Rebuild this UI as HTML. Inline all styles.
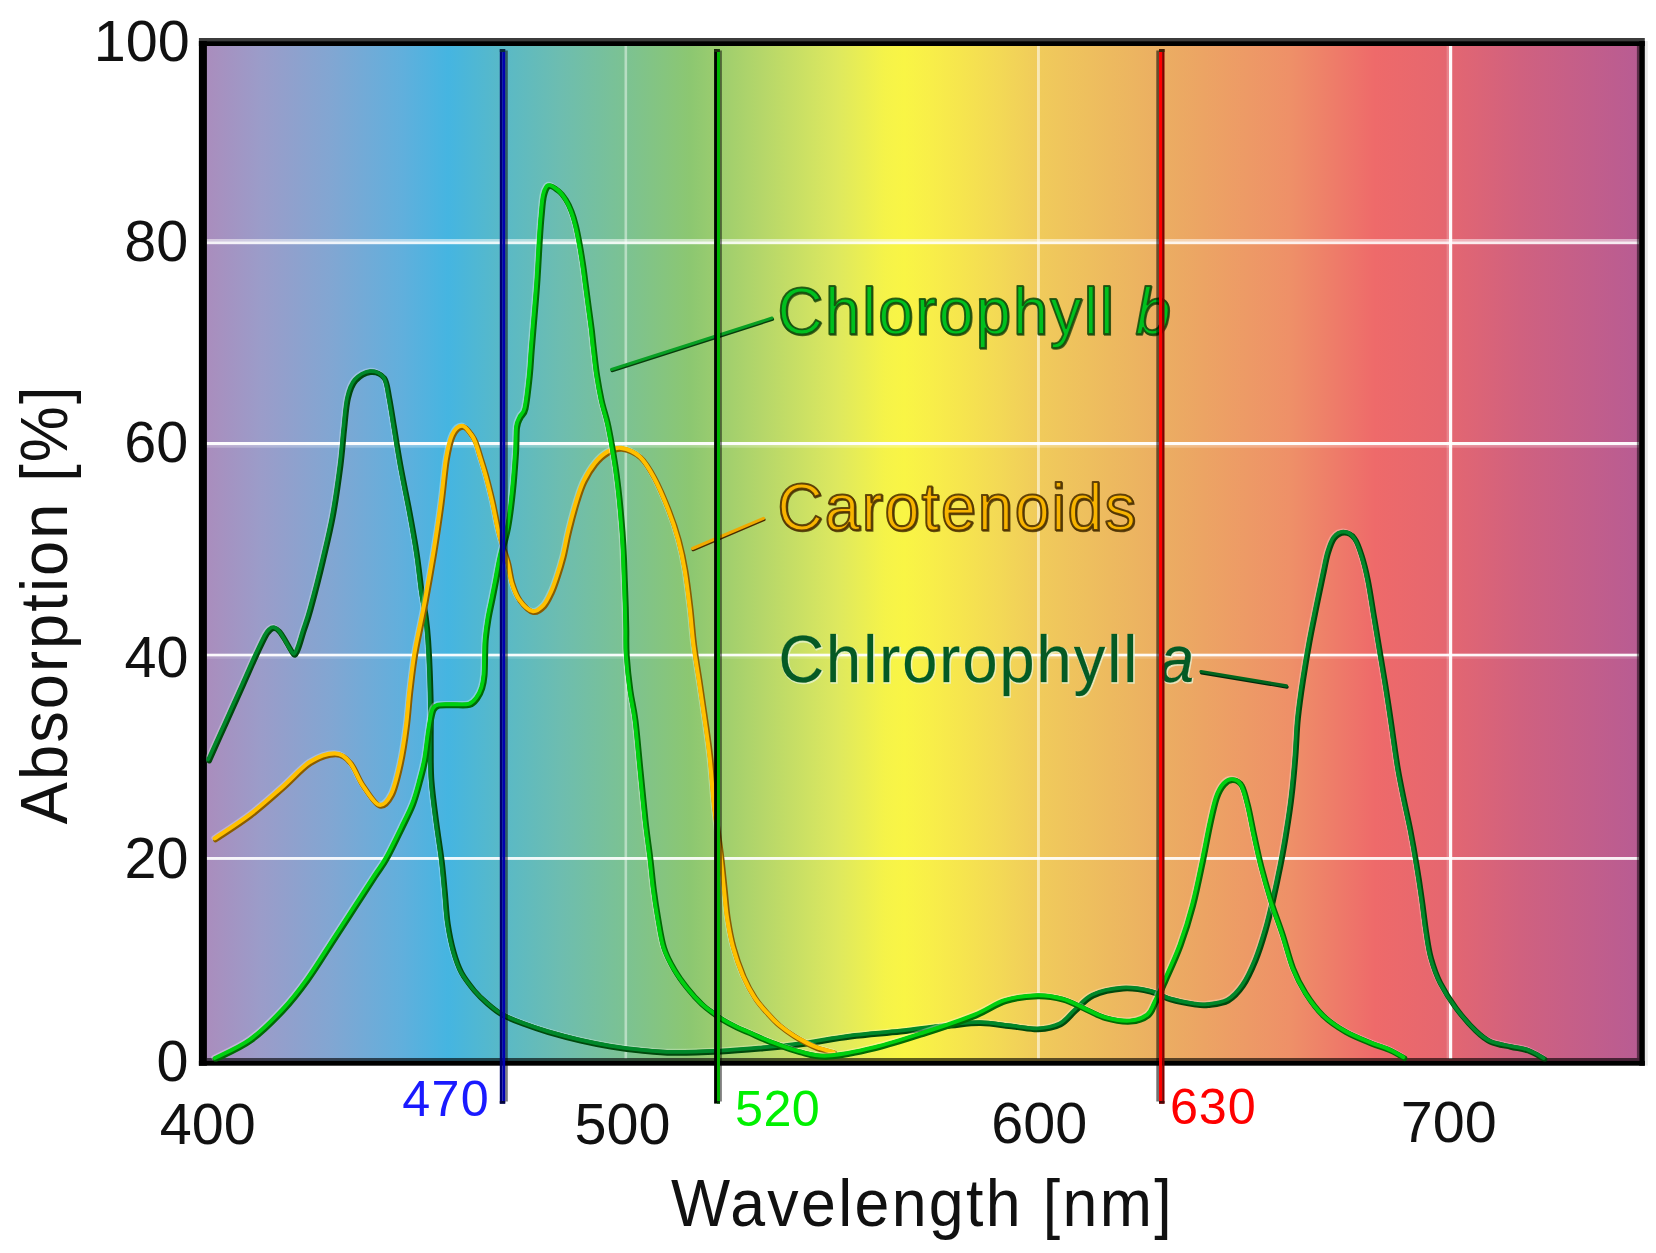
<!DOCTYPE html>
<html lang="en">
<head>
<meta charset="utf-8">
<title>Absorption spectra of chlorophyll a, chlorophyll b and carotenoids</title>
<style>
html,body{margin:0;padding:0;background:#fff;}
body{width:1656px;height:1253px;overflow:hidden;}
svg{display:block;}
text{font-family:"Liberation Sans",sans-serif;}
.ax{font-size:57.5px;fill:#111;}
.ttl{font-size:66px;fill:#111;}
.ttl2{font-size:67px;fill:#111;}
.sm{font-size:50.3px;}
.lbl{font-size:66px;}
</style>
</head>
<body>
<svg width="1656" height="1253" viewBox="0 0 1656 1253">
<defs>
<linearGradient id="spec" gradientUnits="userSpaceOnUse" x1="206" y1="0" x2="1640" y2="0">
<stop offset="0.0000" stop-color="#aa8dbd"/>
<stop offset="0.0377" stop-color="#9b9cc9"/>
<stop offset="0.0865" stop-color="#82a6d2"/>
<stop offset="0.1353" stop-color="#62afdc"/>
<stop offset="0.1688" stop-color="#45b5e1"/>
<stop offset="0.2050" stop-color="#58b9c8"/>
<stop offset="0.2469" stop-color="#6dbdb0"/>
<stop offset="0.2929" stop-color="#7cc292"/>
<stop offset="0.3375" stop-color="#8cc771"/>
<stop offset="0.3863" stop-color="#b4d66a"/>
<stop offset="0.4393" stop-color="#dde85f"/>
<stop offset="0.4735" stop-color="#f5f349"/>
<stop offset="0.4868" stop-color="#f9f545"/>
<stop offset="0.5063" stop-color="#f8ee49"/>
<stop offset="0.5272" stop-color="#f6e54e"/>
<stop offset="0.5551" stop-color="#f3d856"/>
<stop offset="0.5802" stop-color="#f0cb5b"/>
<stop offset="0.6653" stop-color="#ebae62"/>
<stop offset="0.7559" stop-color="#ee9068"/>
<stop offset="0.8152" stop-color="#ee6a6a"/>
<stop offset="0.8605" stop-color="#e6676f"/>
<stop offset="0.9163" stop-color="#d0617f"/>
<stop offset="1.0000" stop-color="#b85c93"/>
</linearGradient>
<clipPath id="plot"><rect x="206" y="44" width="1434" height="1017.5"/></clipPath>
<g fill="none" stroke-linecap="round" stroke-linejoin="round">
<path id="ca" d="M208.5 760.0C211.2 753.9 219.3 735.9 225.0 723.3C230.7 710.7 237.3 695.8 242.5 684.3C247.7 672.8 252.2 662.1 256.0 654.0C259.8 645.9 262.8 639.6 265.0 635.5C267.2 631.4 268.0 630.8 269.5 629.5C271.0 628.2 272.4 627.4 273.9 627.6C275.4 627.8 276.8 628.7 278.5 630.5C280.2 632.3 282.1 635.4 284.0 638.5C285.9 641.6 288.3 646.4 290.0 649.0C291.7 651.6 292.9 654.6 294.2 654.3C295.5 654.0 296.5 650.9 298.0 647.0C299.5 643.1 301.0 637.3 303.0 631.0C305.0 624.7 306.8 620.8 310.0 609.0C313.2 597.2 318.8 575.7 322.5 560.0C326.2 544.3 329.6 530.8 332.5 515.0C335.4 499.2 338.1 479.6 340.0 465.0C341.9 450.4 342.5 438.8 343.8 427.5C345.0 416.2 345.6 405.4 347.5 397.5C349.4 389.6 351.2 384.3 355.0 380.0C358.8 375.7 365.2 371.9 370.0 371.5C374.8 371.1 380.6 373.2 383.8 377.5C386.9 381.8 387.1 389.2 388.8 397.5C390.4 405.8 391.9 416.2 393.8 427.5C395.6 438.8 397.5 451.2 400.0 465.0C402.5 478.8 406.0 495.4 408.8 510.0C411.5 524.6 414.2 539.2 416.2 552.5C418.3 565.8 419.5 579.2 421.0 590.0C422.5 600.8 424.4 609.2 425.5 617.5C426.6 625.8 427.1 631.2 427.7 640.0C428.3 648.8 428.9 659.3 429.3 670.0C429.7 680.7 430.1 691.5 430.3 704.0C430.5 716.5 430.2 732.3 430.3 745.0C430.4 757.7 430.1 767.5 431.0 780.0C431.9 792.5 433.9 806.7 435.6 820.0C437.3 833.3 439.7 847.8 441.2 859.8C442.7 871.8 443.4 881.2 444.4 891.7C445.4 902.2 445.8 913.0 447.3 923.0C448.8 933.0 450.9 943.3 453.2 951.5C455.5 959.7 457.5 965.6 460.9 972.0C464.3 978.4 469.4 984.7 473.6 989.8C477.9 994.9 481.7 998.5 486.4 1002.6C491.1 1006.7 495.7 1010.7 501.7 1014.1C507.7 1017.5 514.5 1020.1 522.2 1023.0C529.9 1025.9 538.1 1028.7 547.7 1031.5C557.3 1034.3 569.6 1037.6 580.0 1040.0C590.4 1042.4 600.0 1044.3 610.0 1046.0C620.0 1047.7 629.6 1049.0 640.0 1050.0C650.4 1051.0 659.2 1052.1 672.5 1052.3C685.8 1052.5 705.4 1051.7 720.0 1051.0C734.6 1050.3 746.7 1049.2 760.0 1048.0C773.3 1046.8 785.0 1045.8 800.0 1043.8C815.0 1041.8 833.3 1038.1 850.0 1036.0C866.7 1033.9 883.3 1032.8 900.0 1031.0C916.7 1029.2 936.7 1026.4 950.0 1025.0C963.3 1023.6 969.6 1022.3 980.0 1022.5C990.4 1022.7 1002.9 1025.0 1012.5 1026.0C1022.1 1027.0 1029.6 1029.1 1037.5 1028.8C1045.4 1028.4 1053.8 1026.9 1060.0 1023.8C1066.2 1020.6 1069.6 1014.8 1075.0 1010.0C1080.4 1005.2 1084.6 998.7 1092.5 995.0C1100.4 991.3 1112.9 988.7 1122.5 988.0C1132.1 987.3 1142.1 989.2 1150.0 991.0C1157.9 992.8 1162.5 996.6 1170.0 998.8C1177.5 1000.9 1188.8 1003.0 1195.0 1004.0C1201.2 1005.0 1202.1 1005.2 1207.5 1004.5C1212.9 1003.8 1221.7 1003.2 1227.5 1000.0C1233.3 996.8 1237.9 991.7 1242.5 985.0C1247.1 978.3 1251.2 969.2 1255.0 960.0C1258.8 950.8 1262.1 940.0 1265.0 930.0C1267.9 920.0 1270.0 910.8 1272.5 900.0C1275.0 889.2 1277.7 876.7 1280.0 865.0C1282.3 853.3 1284.4 841.7 1286.2 830.0C1288.1 818.3 1289.8 807.5 1291.2 795.0C1292.7 782.5 1294.0 767.9 1295.0 755.0C1296.0 742.1 1296.2 730.0 1297.5 717.5C1298.8 705.0 1300.6 692.5 1302.5 680.0C1304.4 667.5 1306.5 655.0 1308.8 642.5C1311.0 630.0 1314.0 616.2 1316.2 605.0C1318.5 593.8 1320.6 583.8 1322.5 575.0C1324.4 566.2 1325.6 558.8 1327.5 552.5C1329.4 546.2 1331.0 540.9 1333.8 537.5C1336.5 534.1 1340.4 532.0 1343.8 532.0C1347.1 532.0 1350.8 533.7 1353.8 537.5C1356.7 541.3 1359.0 547.9 1361.2 555.0C1363.5 562.1 1365.4 569.6 1367.5 580.0C1369.6 590.4 1371.7 605.0 1373.8 617.5C1375.8 630.0 1377.9 642.5 1380.0 655.0C1382.1 667.5 1384.3 680.0 1386.2 692.5C1388.2 705.0 1390.0 717.5 1391.8 730.0C1393.6 742.5 1395.4 756.2 1397.3 767.5C1399.2 778.8 1401.1 787.6 1403.2 798.0C1405.3 808.4 1407.8 818.8 1410.0 830.0C1412.2 841.2 1414.4 853.8 1416.2 865.0C1418.1 876.2 1419.7 886.7 1421.2 897.5C1422.8 908.3 1424.0 920.0 1425.5 930.0C1427.0 940.0 1428.1 948.8 1430.5 957.5C1432.9 966.2 1435.6 974.2 1439.8 982.5C1444.0 990.8 1449.6 999.6 1455.5 1007.5C1461.4 1015.4 1469.2 1024.4 1475.0 1030.0C1480.8 1035.6 1484.2 1038.5 1490.0 1041.2C1495.8 1044.0 1503.8 1044.8 1510.0 1046.2C1516.2 1047.7 1521.8 1048.0 1527.5 1050.0C1533.2 1052.0 1541.2 1057.1 1544.0 1058.5"/>
<path id="cb" d="M215.0 1058.5C220.8 1055.4 238.8 1048.1 250.0 1040.0C261.2 1031.9 273.0 1020.1 282.5 1010.0C292.0 999.9 298.7 991.2 307.1 979.5C315.6 967.8 325.4 951.6 333.2 939.6C341.0 927.6 347.0 918.3 353.9 907.7C360.8 897.1 369.2 884.0 374.6 875.8C380.0 867.5 381.7 866.2 386.1 858.2C390.6 850.2 396.9 837.0 401.3 827.9C405.7 818.8 409.4 811.9 412.5 803.9C415.6 795.9 417.7 787.4 419.7 780.0C421.7 772.6 423.2 767.2 424.6 759.7C426.0 752.2 427.0 741.8 428.0 735.0C429.0 728.2 429.6 723.3 430.5 719.0C431.4 714.7 431.9 711.3 433.2 709.0C434.5 706.7 435.4 705.7 438.5 705.0C441.6 704.3 446.9 704.7 452.0 704.6C457.1 704.5 464.9 705.4 469.0 704.3C473.1 703.2 474.5 700.8 476.6 698.0C478.7 695.2 480.5 691.5 481.7 687.7C482.9 683.9 483.5 680.3 484.0 675.0C484.5 669.7 484.4 662.0 484.6 655.8C484.8 649.6 484.7 644.3 485.3 638.0C485.9 631.7 486.9 624.6 488.0 618.0C489.1 611.4 490.7 604.8 492.0 598.3C493.3 591.8 494.5 585.9 495.8 579.0C497.1 572.1 498.1 565.6 500.0 557.0C501.9 548.4 505.4 538.7 507.5 527.5C509.6 516.3 511.2 502.5 512.5 490.0C513.8 477.5 514.8 463.0 515.5 452.5C516.2 442.0 515.8 432.9 516.5 427.0C517.2 421.1 518.6 420.2 520.0 417.0C521.4 413.8 523.5 415.0 525.0 408.0C526.5 401.0 528.3 384.7 529.3 375.0C530.3 365.3 530.4 359.7 531.2 349.7C532.0 339.7 533.1 326.7 534.1 314.9C535.1 303.1 536.2 290.8 537.0 278.7C537.8 266.6 538.4 253.4 539.1 242.5C539.8 231.6 540.5 221.5 541.3 213.5C542.0 205.5 542.4 199.2 543.6 194.6C544.8 189.9 546.2 186.3 548.6 185.6C551.0 184.9 555.2 188.1 558.0 190.3C560.8 192.5 563.0 195.6 565.2 199.0C567.4 202.4 569.3 206.2 571.0 210.6C572.7 214.9 574.1 219.8 575.4 225.1C576.7 230.4 577.8 236.0 579.0 242.5C580.2 249.0 581.5 257.0 582.6 264.2C583.7 271.4 584.5 278.6 585.5 285.9C586.5 293.1 587.4 300.4 588.4 307.7C589.4 314.9 590.4 322.4 591.3 329.4C592.1 336.4 592.6 342.1 593.5 349.7C594.4 357.3 595.3 366.6 596.6 375.0C597.9 383.4 599.5 392.2 601.2 400.0C602.9 407.8 605.3 414.4 607.0 421.7C608.7 428.9 610.0 436.3 611.3 443.5C612.6 450.7 613.8 457.8 614.9 465.0C616.0 472.2 616.8 478.5 617.8 487.0C618.8 495.5 619.9 506.3 620.7 516.0C621.6 525.7 622.3 534.3 622.9 545.0C623.5 555.7 623.9 569.6 624.3 580.0C624.7 590.4 625.0 599.2 625.3 607.5C625.5 615.8 625.6 622.1 625.8 630.0C625.9 637.9 625.5 645.0 626.2 655.0C626.9 665.0 628.4 679.2 629.9 690.0C631.4 700.8 633.3 706.7 635.0 720.0C636.7 733.3 638.3 753.3 640.0 770.0C641.7 786.7 643.4 805.4 645.0 820.0C646.6 834.6 648.4 846.0 649.8 857.5C651.2 869.0 652.0 878.9 653.3 889.0C654.6 899.1 656.0 908.3 657.7 918.0C659.4 927.7 660.9 938.5 663.5 947.0C666.1 955.5 669.7 962.0 673.6 968.7C677.5 975.5 682.1 981.7 686.7 987.5C691.3 993.3 696.6 999.1 701.2 1003.5C705.8 1007.9 710.8 1011.1 714.2 1013.6C717.6 1016.1 717.8 1016.6 721.4 1018.8C725.0 1021.0 731.1 1024.3 735.9 1026.7C740.7 1029.1 744.7 1030.5 750.4 1033.0C756.1 1035.5 761.9 1038.4 770.0 1041.5C778.1 1044.6 789.3 1049.1 799.0 1051.5C808.7 1053.9 815.3 1056.7 828.0 1056.0C840.7 1055.3 858.8 1051.4 875.0 1047.5C891.2 1043.6 908.3 1037.9 925.0 1032.5C941.7 1027.1 961.7 1020.3 975.0 1015.0C988.3 1009.7 994.6 1003.7 1005.0 1000.5C1015.4 997.3 1027.9 995.9 1037.5 995.6C1047.1 995.4 1055.0 997.0 1062.5 999.0C1070.0 1001.0 1075.4 1004.4 1082.5 1007.5C1089.6 1010.6 1097.1 1015.2 1105.0 1017.5C1112.9 1019.8 1122.9 1021.4 1130.0 1021.0C1137.1 1020.6 1143.3 1018.2 1147.5 1015.0C1151.7 1011.8 1152.1 1007.8 1155.0 1002.0C1157.9 996.2 1160.8 989.5 1165.0 980.0C1169.2 970.5 1175.4 957.5 1180.0 945.0C1184.6 932.5 1188.8 919.2 1192.5 905.0C1196.2 890.8 1199.6 873.8 1202.5 860.0C1205.4 846.2 1207.7 832.9 1210.0 822.5C1212.3 812.1 1214.0 804.0 1216.2 797.5C1218.5 791.0 1221.0 786.8 1223.8 783.8C1226.5 780.8 1229.6 779.3 1232.5 779.5C1235.4 779.7 1238.8 780.8 1241.2 785.0C1243.8 789.2 1245.4 796.7 1247.5 805.0C1249.6 813.3 1251.5 824.6 1253.8 835.0C1256.0 845.4 1258.3 856.2 1261.2 867.5C1264.2 878.8 1267.7 891.2 1271.2 902.5C1274.8 913.8 1279.0 924.2 1282.5 935.0C1286.0 945.8 1288.8 957.9 1292.5 967.5C1296.2 977.1 1300.0 984.6 1305.0 992.5C1310.0 1000.4 1315.8 1008.5 1322.5 1015.0C1329.2 1021.5 1337.1 1026.7 1345.0 1031.2C1352.9 1035.8 1362.5 1039.4 1370.0 1042.5C1377.5 1045.6 1384.4 1047.5 1390.0 1050.0C1395.6 1052.5 1401.5 1056.2 1403.8 1057.5"/>
<path id="cc" d="M215.0 838.8C220.8 834.8 238.8 823.5 250.0 815.0C261.2 806.5 272.5 796.2 282.5 787.5C292.5 778.8 301.2 768.1 310.0 762.5C318.8 756.9 328.3 753.8 335.0 753.8C341.7 753.8 345.4 757.3 350.0 762.5C354.6 767.7 357.7 777.9 362.5 785.0C367.3 792.1 374.0 803.3 378.8 805.0C383.5 806.7 387.7 801.7 391.2 795.0C394.8 788.3 397.5 776.2 400.0 765.0C402.5 753.8 404.6 740.0 406.2 727.5C407.9 715.0 408.5 702.5 410.0 690.0C411.5 677.5 412.5 667.1 415.0 652.5C417.5 637.9 421.9 619.2 425.0 602.5C428.1 585.8 431.0 569.2 433.8 552.5C436.5 535.8 439.2 517.9 441.2 502.5C443.3 487.1 444.4 471.2 446.2 460.0C448.1 448.8 449.8 440.6 452.5 435.0C455.2 429.4 459.3 426.2 462.5 426.2C465.7 426.2 469.4 432.1 471.6 435.0C473.8 437.9 474.4 439.7 475.9 443.5C477.4 447.3 478.9 452.9 480.5 458.0C482.1 463.1 483.4 466.8 485.4 474.0C487.4 481.2 490.1 492.0 492.3 501.4C494.5 510.8 496.4 522.5 498.3 530.4C500.2 538.3 501.9 543.5 503.5 549.0C505.1 554.5 506.6 557.8 508.0 563.5C509.4 569.2 510.1 576.9 512.0 583.0C513.9 589.1 516.0 595.2 519.5 600.0C523.0 604.8 528.9 610.6 532.9 611.5C536.9 612.4 540.8 608.7 543.8 605.5C546.8 602.3 549.0 597.2 551.2 592.5C553.4 587.8 555.0 582.9 557.0 577.0C559.0 571.1 561.0 564.8 563.0 557.0C565.0 549.2 566.5 539.5 568.9 530.0C571.2 520.5 574.6 508.1 577.1 500.0C579.6 491.9 581.0 487.3 584.0 481.2C587.0 475.1 591.1 468.3 595.0 463.5C598.9 458.7 603.1 454.8 607.5 452.3C611.9 449.8 616.1 447.5 621.5 448.3C626.9 449.1 634.6 452.1 640.0 457.0C645.4 461.9 649.2 468.7 654.0 477.5C658.8 486.3 664.4 499.6 668.5 510.0C672.6 520.4 675.8 530.0 678.5 540.0C681.2 550.0 683.1 558.8 685.0 570.0C686.9 581.2 688.5 595.0 690.0 607.5C691.5 620.0 692.2 632.5 693.8 645.0C695.4 657.5 697.6 670.0 699.5 682.5C701.4 695.0 703.2 707.5 705.0 720.0C706.8 732.5 708.4 742.9 710.0 757.5C711.6 772.1 712.7 790.8 714.5 807.5C716.3 824.2 719.4 843.9 721.0 857.5C722.6 871.1 723.2 878.9 724.3 889.0C725.4 899.1 725.9 908.3 727.4 918.0C728.9 927.7 730.6 937.3 733.2 947.0C735.8 956.7 739.6 967.5 743.2 976.0C746.8 984.5 750.7 991.4 754.8 997.7C758.9 1004.0 763.7 1009.0 767.8 1013.6C771.9 1018.2 775.0 1021.5 779.4 1025.2C783.8 1028.9 789.6 1033.0 793.9 1035.8C798.2 1038.6 801.1 1040.0 805.0 1042.0C808.9 1044.0 812.6 1046.0 817.4 1047.8C822.2 1049.5 831.2 1051.7 834.0 1052.5"/>
</g>
</defs>

<!-- spectrum background -->
<rect x="203" y="42" width="1439" height="1020" fill="url(#spec)"/>

<!-- grid -->
<g fill="#fff">
<rect x="206" y="239" width="1433" height="2.6" fill-opacity="0.5"/>
<rect x="206" y="241.4" width="1433" height="2.8" fill-opacity="0.88"/>
<rect x="206" y="442" width="1433" height="3.1" fill-opacity="0.96"/>
<rect x="206" y="445.1" width="1433" height="2.6" fill-opacity="0.24"/>
<rect x="206" y="653.7" width="1433" height="2.7" fill-opacity="0.95"/>
<rect x="206" y="656.4" width="1433" height="2.4" fill-opacity="0.14"/>
<rect x="206" y="857" width="1433" height="2.9" fill-opacity="0.9"/>
<rect x="624.5" y="46" width="2.6" height="1013" fill-opacity="0.45"/>
<rect x="1037" y="46" width="2.9" height="1013" fill-opacity="0.55"/>
<rect x="1446.6" y="46" width="2.4" height="1013" fill-opacity="0.2"/>
<rect x="1449" y="46" width="3.2" height="1013" fill-opacity="0.97"/>
</g>

<!-- frame -->
<g fill="#000">
<rect x="198.9" y="38" width="1445.9" height="3.3" fill="#3c3c3c"/>
<rect x="198.9" y="41.1" width="1445.9" height="4.9"/>
<rect x="198.9" y="41.1" width="8" height="1024.6"/>
<rect x="206.9" y="1058" width="1432.3" height="3" fill-opacity="0.62"/>
<rect x="198.9" y="1060.9" width="1445.9" height="4.8"/>
<rect x="1636.9" y="46" width="2.4" height="1012" fill-opacity="0.5"/>
<rect x="1639.2" y="41.1" width="5.6" height="1024.6"/>
<rect x="1644.8" y="41" width="3" height="1024.6" fill-opacity="0.09"/>
</g>

<!-- curves -->
<g fill="none" stroke-linecap="round" stroke-linejoin="round" clip-path="url(#plot)">
<use href="#ca" transform="translate(-0.9,-0.9)" stroke="#fff" stroke-opacity="0.28" stroke-width="5.4"/>
<use href="#ca" transform="translate(0.7,0.8)" stroke="#00480c" stroke-width="5.4"/>
<use href="#ca" transform="translate(-0.4,-0.4)" stroke="#00882a" stroke-width="3.7"/>
<use href="#cc" transform="translate(-0.9,-0.9)" stroke="#fff" stroke-opacity="0.28" stroke-width="5.4"/>
<use href="#cc" transform="translate(0.7,0.8)" stroke="#8a5c00" stroke-width="5.4"/>
<use href="#cc" transform="translate(-0.4,-0.4)" stroke="#ffc000" stroke-width="4.1"/>
<use href="#cb" transform="translate(-0.9,-0.9)" stroke="#fff" stroke-opacity="0.32" stroke-width="5.6"/>
<use href="#cb" transform="translate(0.7,0.8)" stroke="#006a04" stroke-width="5.6"/>
<use href="#cb" transform="translate(-0.4,-0.4)" stroke="#00d010" stroke-width="3.9"/>
</g>

<!-- curve labels -->
<line x1="612.1" y1="370.8" x2="772.6" y2="319.3" stroke="#083c0c" stroke-width="3.0" stroke-linecap="round"/>
<line x1="611.5" y1="369.5" x2="772.0" y2="318.0" stroke="#08a024" stroke-width="3.0" stroke-linecap="round"/>
<g transform="translate(777.5,334.4) scale(0.955,1)">
<text class="lbl" x="0" y="0" letter-spacing="2.2" fill="#1c3c0a" stroke="#1c3c0a" stroke-width="1.6" transform="translate(0.9,0.9)" opacity="0.75">Chlorophyll <tspan font-style="italic">b</tspan></text>
<text class="lbl" x="0" y="0" letter-spacing="2.2" fill="#00c01e" stroke="#154a0c" stroke-width="2.0" stroke-opacity="0.85" stroke-linejoin="round">Chlorophyll <tspan font-style="italic">b</tspan></text>
</g>
<line x1="693.1" y1="549.8" x2="764.1" y2="519.6" stroke="#4a2c00" stroke-width="3.0" stroke-linecap="round"/>
<line x1="692.5" y1="548.5" x2="763.5" y2="518.3" stroke="#f0aa00" stroke-width="3.0" stroke-linecap="round"/>
<g transform="translate(777.5,529.6) scale(0.955,1)">
<text class="lbl" x="0" y="0" letter-spacing="1.95" fill="#3c2800" stroke="#3c2800" stroke-width="1.6" transform="translate(0.9,0.9)" opacity="0.75">Carotenoids</text>
<text class="lbl" x="0" y="0" letter-spacing="1.95" fill="#f8b400" stroke="#4a2e00" stroke-width="2.1" stroke-opacity="0.85" stroke-linejoin="round">Carotenoids</text>
</g>
<line x1="1201.6" y1="672.8" x2="1287.1" y2="687.1" stroke="#002a0c" stroke-width="3.2" stroke-linecap="round"/>
<line x1="1201.0" y1="671.5" x2="1286.5" y2="685.8" stroke="#00661e" stroke-width="3.2" stroke-linecap="round"/>
<g transform="translate(778.5,682) scale(0.955,1)">
<text class="lbl" x="0" y="0" letter-spacing="2.15" fill="#e8f4d8" stroke="#e8f4d8" stroke-width="1.6" transform="translate(0.9,0.9)" opacity="0.75">Chlrorophyll <tspan font-style="italic">a</tspan></text>
<text class="lbl" x="0" y="0" letter-spacing="2.15" fill="#045a24" stroke="#0a5a24" stroke-width="0.3" stroke-opacity="0.6" stroke-linejoin="round">Chlrorophyll <tspan font-style="italic">a</tspan></text>
</g>

<!-- marker lines -->
<g>
<rect x="505.1" y="50.5" width="2.7" height="1051" fill="#000" fill-opacity="0.5"/>
<rect x="499.8" y="49.1" width="2.7" height="1054.5" fill="#00006e"/>
<rect x="502.4" y="49.1" width="2.8" height="1054.5" fill="#0000b2"/>
<rect x="499.8" y="49.1" width="5.4" height="2.9" fill="#082e3a"/>
<rect x="499.8" y="1101" width="5.4" height="2.7" fill="#06063a"/>
<rect x="719.9" y="50.5" width="2" height="1051" fill="#000" fill-opacity="0.5"/>
<rect x="714.1" y="49.1" width="3" height="1054.5" fill="#000"/>
<rect x="717" y="49.1" width="3" height="1054.5" fill="#00b400"/>
<rect x="714.1" y="49.1" width="5.8" height="2.9" fill="#1c2c10"/>
<rect x="717" y="1101" width="3" height="2.7" fill="#063a06"/>
<rect x="1156.3" y="50.5" width="2.8" height="1051" fill="#000" fill-opacity="0.56"/>
<rect x="1159" y="49.1" width="3.2" height="1054.5" fill="#ff0000"/>
<rect x="1162.1" y="49.1" width="2.4" height="1054.5" fill="#7e0000"/>
<rect x="1159" y="49.1" width="5.5" height="2.9" fill="#3a2408"/>
<rect x="1159" y="1101" width="5.5" height="2.7" fill="#4a0606"/>
</g>

<!-- axis tick labels -->
<g class="ax" text-anchor="end">
<text x="189.8" y="60.7">100</text>
<text x="188.2" y="260.5">80</text>
<text x="188.2" y="461.7">60</text>
<text x="188.4" y="676.6">40</text>
<text x="188.4" y="878.4">20</text>
<text x="188.4" y="1081">0</text>
</g>
<g class="ax">
<text x="159.7" y="1143.5">400</text>
<text x="574.5" y="1144.3">500</text>
<text x="991.3" y="1143.4">600</text>
<text x="1400.7" y="1142.3">700</text>
</g>
<g class="sm">
<text x="402.2" y="1116.4" fill="#1a1aff" letter-spacing="1.3">470</text>
<text x="735.1" y="1125.7" fill="#00f000" letter-spacing="0.4">520</text>
<text x="1169.9" y="1124" fill="#ff0000" letter-spacing="0.9">630</text>
</g>
<g transform="translate(671,1226) scale(0.95,1)"><text class="ttl" x="0" y="0" letter-spacing="2.45">Wavelength [nm]</text></g>
<g transform="translate(67,824.2) rotate(-90) scale(0.94,1)"><text class="ttl2" x="0" y="0" letter-spacing="2.3">Absorption [%]</text></g>
</svg>
</body>
</html>
